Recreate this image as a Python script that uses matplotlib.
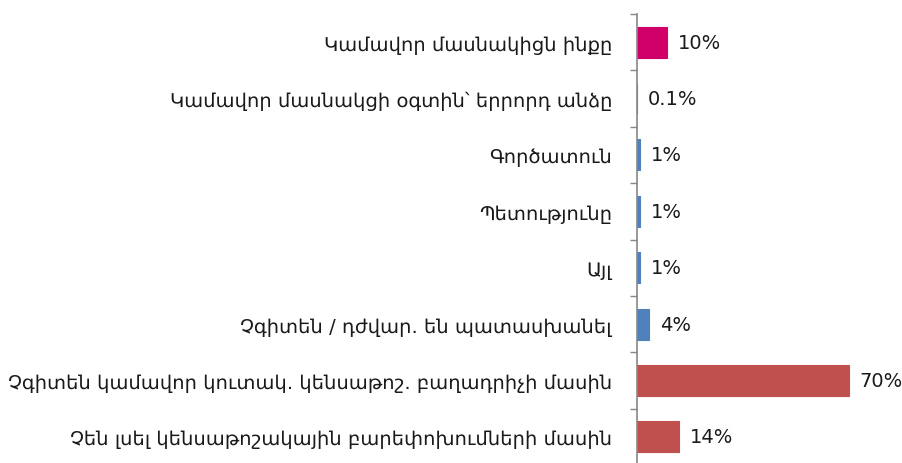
import matplotlib
matplotlib.use("Agg")
import matplotlib.pyplot as plt
import numpy as np

# Data (top to bottom as shown)
categories = [
    "Կամավոր մասնակիցն ինքը",
    "Կամավոր մասնակցի օգտին՝ երրորդ անձը",
    "Գործատուն",
    "Պետությունը",
    "Այլ",
    "Չգիտեն / դժվար. են պատասխանել",
    "Չգիտեն կամավոր կուտակ. կենսաթոշ. բաղադրիչի մասին",
    "Չեն լսել կենսաթոշակային բարեփոխումների մասին",
]
values = [10, 0.1, 1, 1, 1, 4, 70, 14]
value_labels = ["10%", "0.1%", "1%", "1%", "1%", "4%", "70%", "14%"]
colors = ["#D10069", "#4F81BD", "#4F81BD", "#4F81BD", "#4F81BD", "#4F81BD",
          "#C0504D", "#C0504D"]

plt.rcParams["font.family"] = ["DejaVu Sans"]

fig = plt.figure(figsize=(9.03, 4.64), dpi=100)
ax = fig.add_axes([637 / 903, -2 / 464, 1 - 637 / 903, 451 / 464])

y = np.arange(len(categories))
ax.barh(y, values, height=0.55, color=colors, edgecolor=colors, linewidth=0.8)
ax.set_ylim(len(categories) - 0.5, -0.5)
ax.set_xlim(0, 88)

ax.set_yticks(y)
ax.set_yticklabels(categories, fontsize=14, color="#1a1a1a")
ax.tick_params(axis="y", which="major", length=0, pad=18)
ax.set_yticks(np.arange(len(categories) + 1) - 0.5, minor=True)
ax.tick_params(axis="y", which="minor", length=5, color="#888888", width=1)
ax.set_xticks([])

for side in ["top", "right", "bottom"]:
    ax.spines[side].set_visible(False)
ax.spines["left"].set_color("#888888")
ax.spines["left"].set_linewidth(1.2)

for yi, v, lab in zip(y, values, value_labels):
    ax.text(v + 3.5, yi, lab, va="center", ha="left", fontsize=14, color="#1a1a1a")

fig.savefig("out.png", dpi=100)
